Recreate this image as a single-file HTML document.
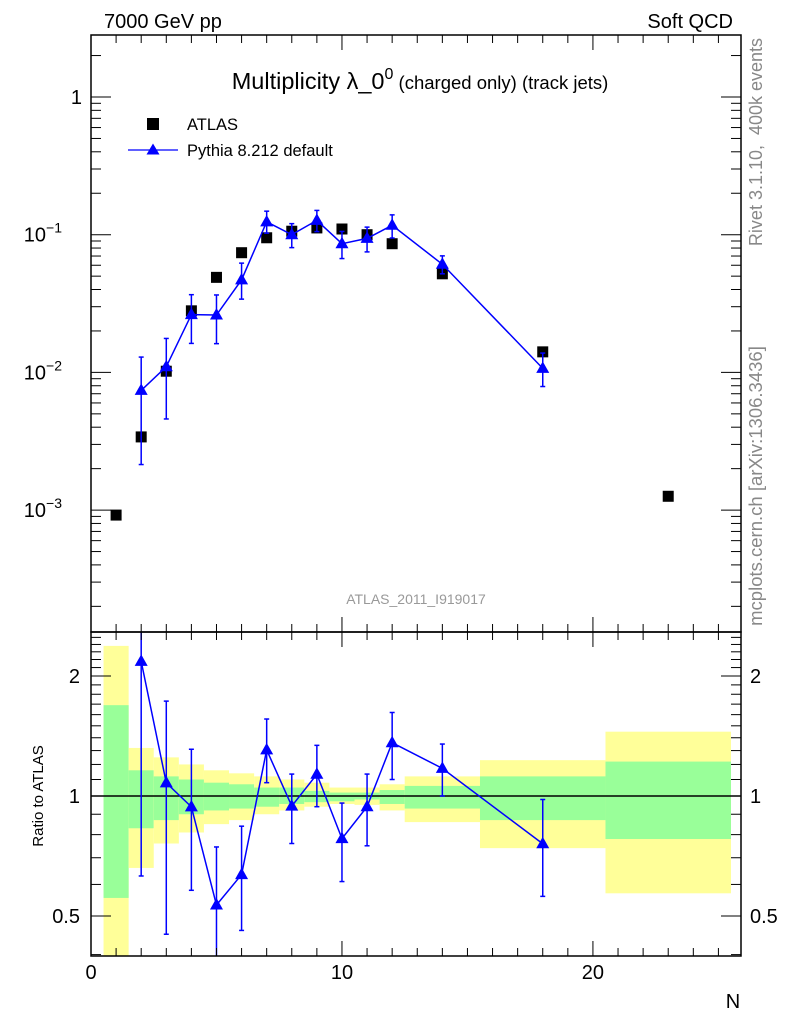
<!DOCTYPE html>
<html><head><meta charset="utf-8"><style>
html,body{margin:0;padding:0;background:#fff;}
svg{display:block;font-family:"Liberation Sans",Arial,sans-serif;}
</style></head><body>
<svg id="plot" width="786" height="1024" viewBox="0 0 786 1024" xmlns="http://www.w3.org/2000/svg">
<text x="104" y="28" font-size="20">7000 GeV pp</text>
<text x="733" y="28" font-size="20" text-anchor="end">Soft QCD</text>
<text x="420" y="89" font-size="23.5" text-anchor="middle">Multiplicity λ_0<tspan dy="-10" font-size="16">0</tspan><tspan dy="10" font-size="18.5"> (charged only) (track jets)</tspan></text>
<text transform="translate(762,142) rotate(-90)" font-size="18" fill="#888" text-anchor="middle" style="white-space:pre">Rivet 3.1.10,  400k events</text>
<text transform="translate(762,486) rotate(-90)" font-size="18.5" fill="#888" text-anchor="middle">mcplots.cern.ch [arXiv:1306.3436]</text>
<text x="416" y="604" font-size="14" fill="#999" text-anchor="middle">ATLAS_2011_I919017</text>
<g>
<rect x="147" y="118" width="12" height="12" fill="#000"/>
<text x="187" y="130" font-size="16.5">ATLAS</text>
<line x1="128" y1="150" x2="178" y2="150" stroke="#00f" stroke-width="1.3"/>
<polygon points="153,143.5 159.5,154.5 146.5,154.5" fill="#00f"/>
<text x="187" y="156" font-size="16.5">Pythia 8.212 default</text>
</g>
<text transform="translate(43,796) rotate(-90)" font-size="15" text-anchor="middle">Ratio to ATLAS</text>
<text x="733" y="1008" font-size="20" text-anchor="middle">N</text>
<g id="g"></g>
</svg>
<script>
const nVals=[1,2,3,4,5,6,7,8,9,10,11,12,14,18,23];
const binLo=[0.5,1.5,2.5,3.5,4.5,5.5,6.5,7.5,8.5,9.5,10.5,11.5,12.5,15.5,20.5];
const binHi=[1.5,2.5,3.5,4.5,5.5,6.5,7.5,8.5,9.5,10.5,11.5,12.5,15.5,20.5,25.5];
const atlasVals=[0.00092,0.0034,0.0102,0.028,0.049,0.074,0.095,0.106,0.112,0.110,0.100,0.086,0.052,0.0141,0.00126];
const yellowHi=[2.38,1.32,1.25,1.20,1.16,1.14,1.12,1.10,1.08,1.05,1.05,1.07,1.12,1.23,1.45];
const yellowLo=[0.30,0.66,0.76,0.81,0.85,0.87,0.90,0.92,0.94,0.955,0.95,0.92,0.86,0.74,0.57];
const greenHi=[1.69,1.16,1.12,1.10,1.08,1.07,1.05,1.05,1.03,1.02,1.02,1.035,1.06,1.12,1.22];
const greenLo=[0.555,0.83,0.87,0.90,0.92,0.93,0.94,0.955,0.965,0.97,0.98,0.955,0.93,0.87,0.78];
const mcN=[2,3,4,5,6,7,8,9,10,11,12,14,18];
const mcVals=[0.0074,0.011,0.0263,0.0261,0.047,0.124,0.100,0.127,0.086,0.094,0.117,0.061,0.0107];
const mcRatioHi=[3.8,1.73,1.31,0.745,0.84,1.56,1.135,1.34,0.96,1.135,1.62,1.35,0.98];
const mcRatioLo=[0.63,0.45,0.58,0.33,0.46,1.08,0.76,0.94,0.61,0.75,1.10,1.0,0.56];

const NS="http://www.w3.org/2000/svg";
const g=document.getElementById('g');
const L=91,R=741,T=35,M=632,B=956;
const X=v=>L+(v-0)*(R-L)/25.9;
const Y=v=>97-137.7*Math.log10(v);
const YR=v=>796-398.6*Math.log10(v);
function el(t,a,p){const e=document.createElementNS(NS,t);for(const k in a)e.setAttribute(k,a[k]);(p||g).appendChild(e);return e;}
const defs=el('defs',{});
const cp=el('clipPath',{id:'rc'},defs);el('rect',{x:L,y:M,width:R-L,height:B-M},cp);
const cm=el('clipPath',{id:'mc'},defs);el('rect',{x:L,y:T,width:R-L,height:M-T},cm);
const rg=el('g',{'clip-path':'url(#rc)'});


for(let i=0;i<nVals.length;i++){
 const x1=X(binLo[i]),x2=X(binHi[i]);
 const y=el('rect',{x:x1,y:YR(yellowHi[i]),width:x2-x1,height:YR(yellowLo[i])-YR(yellowHi[i]),fill:'#ffff99'},rg);
 
 
 const gr=el('rect',{x:x1,y:YR(greenHi[i]),width:x2-x1,height:YR(greenLo[i])-YR(greenHi[i]),fill:'#99ff99'},rg);
 
 
}
el('line',{x1:L,x2:R,y1:YR(1),y2:YR(1),stroke:'#000','stroke-width':1.5},rg);
function tri(p,x,y,name){const t=el('polygon',{points:`${x},${y-7} ${x+6.5},${y+4.5} ${x-6.5},${y+4.5}`,fill:'#00f'},p);}
function ebar(p,x,y1,y2){el('line',{x1:x,x2:x,y1:y1,y2:y2,stroke:'#00f','stroke-width':1.5},p);el('line',{x1:x-2.5,x2:x+2.5,y1:y1,y2:y1,stroke:'#00f','stroke-width':1.5},p);el('line',{x1:x-2.5,x2:x+2.5,y1:y2,y2:y2,stroke:'#00f','stroke-width':1.5},p);}
const ratio=mcN.map((n,i)=>mcVals[i]/atlasVals[nVals.indexOf(n)]);
let pts=mcN.map((n,i)=>X(n)+','+YR(ratio[i])).join(' ');
el('polyline',{points:pts,fill:'none',stroke:'#00f','stroke-width':1.5},rg);
mcN.forEach((n,i)=>{ebar(rg,X(n),YR(mcRatioHi[i]),YR(mcRatioLo[i]));tri(rg,X(n),YR(ratio[i]),'ratio-point-'+n);});
const mg=el('g',{'clip-path':'url(#mc)'});


nVals.forEach((n,i)=>{const r=el('rect',{x:X(n)-5.5,y:Y(atlasVals[i])-5.5,width:11,height:11,fill:'#000'},mg);});
pts=mcN.map((n,i)=>X(n)+','+Y(mcVals[i])).join(' ');
el('polyline',{points:pts,fill:'none',stroke:'#00f','stroke-width':1.5},mg);
mcN.forEach((n,i)=>{const d=atlasVals[nVals.indexOf(n)];ebar(mg,X(n),Y(mcRatioHi[i]*d),Y(mcRatioLo[i]*d));tri(mg,X(n),Y(mcVals[i]),'pythia-point-'+n);});
el('rect',{x:L,y:T,width:R-L,height:M-T,fill:'none',stroke:'#000','stroke-width':1.5});
el('rect',{x:L,y:M,width:R-L,height:B-M,fill:'none',stroke:'#000','stroke-width':1.5});
for(let v=1;v<=25;v++){const maj=v%10==0,len=maj?15:8;const x=X(v);
 for(const [y0,d] of [[M,-1],[T,1],[B,-1]]){el('line',{x1:x,x2:x,y1:y0,y2:y0+d*len,stroke:'#000'});}
 el('line',{x1:x,x2:x,y1:M,y2:M+len,stroke:'#000'});}
const xTicks=['0','10','20'];
xTicks.forEach(s=>{const t=el('text',{x:X(+s),y:979,'font-size':20,'text-anchor':'middle'});t.textContent=s;});
for(let e=-4;e<=0;e++){for(let m=1;m<=9;m++){const v=m*Math.pow(10,e);const y=Y(v);if(y<T||y>M)continue;const len=m==1?20:10;
 el('line',{x1:L,x2:L+len,y1:y,y2:y,stroke:'#000'});el('line',{x1:R,x2:R-len,y1:y,y2:y,stroke:'#000'});}}
const mainTicks=[[1,'1',''],[0.1,'10','−1'],[0.01,'10','−2'],[0.001,'10','−3']];
mainTicks.forEach(([v,b,e])=>{const t=el('text',{x:e?62:82,y:Y(v)+7,'font-size':20,'text-anchor':'end'});t.textContent=b;if(e){const s=el('tspan',{dy:-9,'font-size':14},t);s.textContent=e;}});
const rmin=[0.4,0.6,0.7,0.8,0.9,1.1,1.2,1.3,1.4,1.5,1.6,1.7,1.8,1.9,2.1,2.2,2.3,2.4,2.5];
rmin.forEach(v=>{const y=YR(v);el('line',{x1:L,x2:L+10,y1:y,y2:y,stroke:'#000'});el('line',{x1:R,x2:R-10,y1:y,y2:y,stroke:'#000'});});
const ratioTicks=['0.5','1','2'];
ratioTicks.forEach(s=>{const y=YR(+s);el('line',{x1:L,x2:L+20,y1:y,y2:y,stroke:'#000'});el('line',{x1:R,x2:R-20,y1:y,y2:y,stroke:'#000'});
 const t=el('text',{x:80,y:y+7,'font-size':20,'text-anchor':'end'});t.textContent=s;
 const t2=el('text',{x:750,y:y+7,'font-size':20});t2.textContent=s;});
</script>
</body></html>
